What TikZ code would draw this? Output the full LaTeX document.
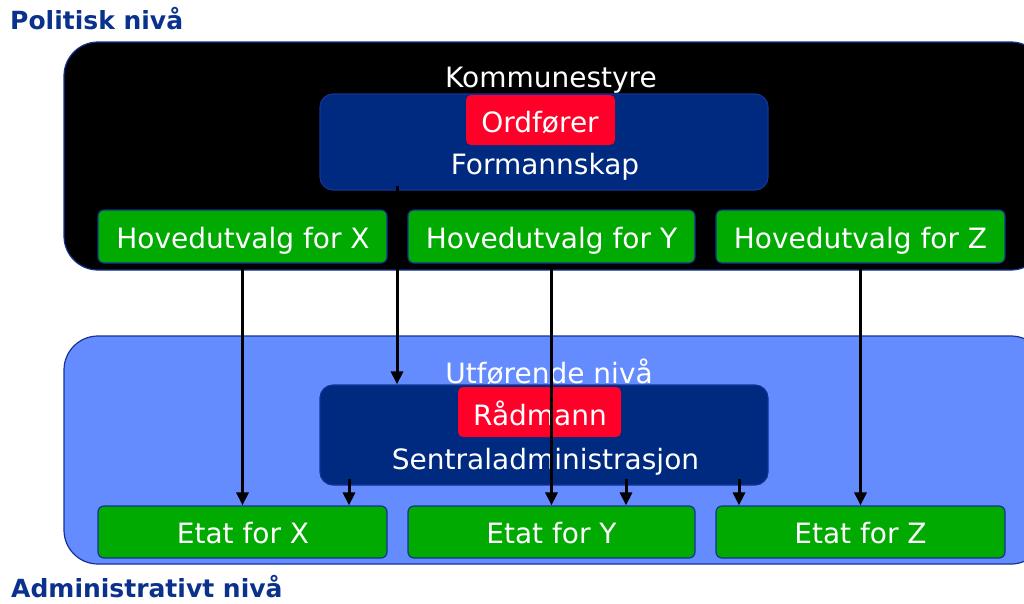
\documentclass[tikz,border=0pt]{standalone}
\usepackage{fontspec}
\setmainfont{DejaVu Sans}
\usetikzlibrary{arrows.meta}

\definecolor{titleblue}{RGB}{10,50,140}
\definecolor{edgeblue}{RGB}{20,50,150}
\definecolor{navy}{RGB}{0,42,128}
\definecolor{skyblue}{RGB}{100,140,255}
\definecolor{grn}{RGB}{0,170,0}
\definecolor{redbox}{RGB}{255,0,40}

\begin{document}
\begin{tikzpicture}[x=1pt,y=-1pt,
  title/.style={font=\fontsize{25}{30}\selectfont\bfseries, text=titleblue, inner sep=0, anchor=base west},
  txt/.style={font=\fontsize{28}{34}\selectfont, text=white, inner sep=0, anchor=base},
  box/.style={draw=edgeblue, line width=1.2pt, inner sep=0, anchor=center},
  greenbox/.style={box, fill=grn, rounded corners=6pt, minimum height=53pt},
  navybox/.style={box, fill=navy, rounded corners=13pt, minimum width=448pt},
  redlabel/.style={box, draw=none, fill=redbox, rounded corners=5pt, minimum height=50pt},
  arr/.style={line width=3pt, -{Triangle[length=13pt,width=12pt]}}
]
\useasboundingbox (0,0) rectangle (1024,603);
\clip (0,0) rectangle (1024,603);

% political level (black) and executive level (light blue)
\draw[fill=black, draw=edgeblue, line width=1.2pt, rounded corners=34pt] (64,42) rectangle (1045,270);
\draw[fill=skyblue, draw=edgeblue, line width=1.2pt, rounded corners=34pt] (64,336) rectangle (1045,564);

\node[title] (polt) at (10,29) {Politisk nivå};
\node[title] (admt) at (11,597) {Administrativt nivå};

% council
\node[txt] (komm) at (551,87.5) {Kommunestyre};
\node[navybox, minimum height=96pt] (forman) at (544,142) {};
\node[redlabel, minimum width=149pt] (ordf) at (540.5,120) {};
\node[txt] (ordft) at (540,132) {Ordfører};
\node[txt] (formt) at (545,174) {Formannskap};

% committees
\node[greenbox, minimum width=289pt] (hx) at (242.5,236.5) {};
\node[greenbox, minimum width=287pt] (hy) at (551.5,236.5) {};
\node[greenbox, minimum width=289pt] (hz) at (860.5,236.5) {};
\node[txt] (hxt) at (243,248) {Hovedutvalg for X};
\node[txt] (hyt) at (551.5,248) {Hovedutvalg for Y};
\node[txt] (hzt) at (860.5,248) {Hovedutvalg for Z};

% administration
\node[txt] (utf) at (549,383) {Utførende nivå};
\node[navybox, minimum height=100pt] (sentral) at (544,435) {};
\node[redlabel, minimum width=163pt] (radm) at (539.5,412) {};
\node[txt] (radmt) at (540,425) {Rådmann};
\node[txt] (sentt) at (545.5,469) {Sentraladministrasjon};

% departments
\node[greenbox, minimum width=289pt, minimum height=52pt] (ex) at (242.5,532) {};
\node[greenbox, minimum width=287pt, minimum height=52pt] (ey) at (551.5,532) {};
\node[greenbox, minimum width=289pt, minimum height=52pt] (ez) at (860.5,532) {};
\node[txt] (ext) at (243,543) {Etat for X};
\node[txt] (eyt) at (551.5,543) {Etat for Y};
\node[txt] (ezt) at (860.5,543) {Etat for Z};

% lines of authority
\coordinate (fa) at (397,186);
\draw[arr] (fa) -- (fa |- sentral.north);
\draw[arr] (hx.south) -- (ex.north);
\draw[arr] (hy.south) -- (ey.north);
\draw[arr] (hz.south) -- (ez.north);
\draw[arr] ([xshift=-195pt,yshift=7pt]sentral.south) -- ([xshift=106.5pt]ex.north);
\draw[arr] ([xshift=82pt,yshift=7pt]sentral.south) -- ([xshift=74.5pt]ey.north);
\draw[arr] ([xshift=195pt,yshift=7pt]sentral.south) -- ([xshift=-121.5pt]ez.north);
\end{tikzpicture}
\end{document}
